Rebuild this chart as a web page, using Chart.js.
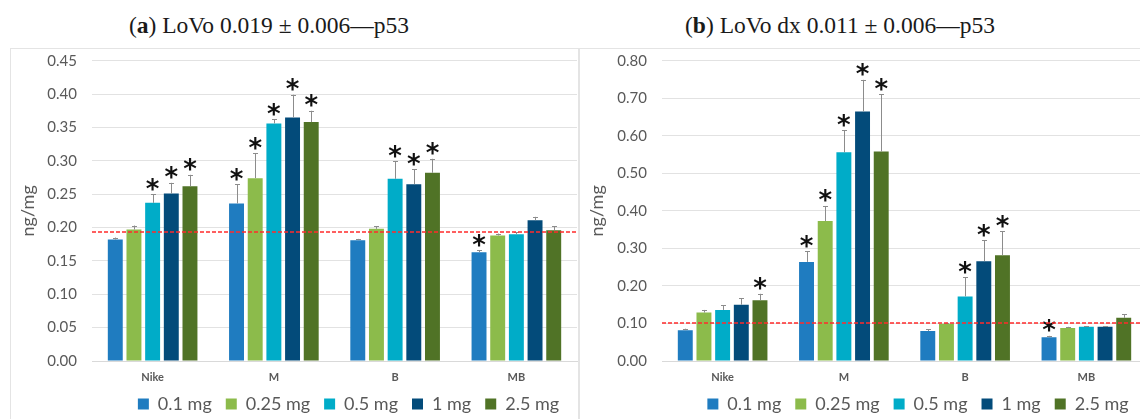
<!DOCTYPE html>
<html>
<head>
<meta charset="utf-8">
<script src="https://cdn.jsdelivr.net/npm/chart.js@4.4.1/dist/chart.umd.min.js"></script>
<style>
  html, body { margin: 0; padding: 0; background: #fff; }
  body { width: 1140px; height: 419px; overflow: hidden; position: relative; }
  .title {
    position: absolute; top: 10px; height: 30px; line-height: 30px;
    font-family: "Liberation Serif", "DejaVu Serif", serif; font-size: 23.5px;
    color: #1a1a1a; text-align: center; white-space: nowrap;
  }
  .panel { position: absolute; top: 48px; height: 375px; outline: 1px solid #e4e4e4; outline-offset: -1px; }
  #pa { left: 10px; width: 569px; }
  #pb { left: 579px; width: 570px; }
</style>
</head>
<body>
<div class="title" style="left:0;width:538px">(<b>a</b>) LoVo 0.019 ± 0.006—p53</div>
<div class="title" style="left:570px;width:540px">(<b>b</b>) LoVo dx 0.011 ± 0.006—p53</div>
<div class="panel" id="pa"><canvas id="chartA"></canvas></div>
<div class="panel" id="pb"><canvas id="chartB"></canvas></div>

<script>
// categories and doses
const categories = ["Nike", "M", "B", "MB"];
const doses = ["0.1 mg", "0.25 mg", "0.5 mg", "1 mg", "2.5 mg"];

// (a) LoVo - mean values per dose (Nike, M, B, MB)
const lovoA01 = [0.182, 0.236, 0.181, 0.163];
const lovoA025 = [0.197, 0.274, 0.198, 0.188];
const lovoA05 = [0.237, 0.356, 0.273, 0.190];
const lovoA1 = [0.251, 0.365, 0.265, 0.211];
const lovoA25 = [0.262, 0.358, 0.282, 0.196];
// (a) standard deviations
const sdA01 = [0.003, 0.029, 0.002, 0.003];
const sdA025 = [0.006, 0.037, 0.004, 0.003];
const sdA05 = [0.013, 0.006, 0.026, 0.003];
const sdA1 = [0.016, 0.034, 0.022, 0.005];
const sdA25 = [0.017, 0.017, 0.021, 0.006];
// (a) significance marks (1 = asterisk)
const sigA01 = [0, 1, 0, 1];
const sigA025 = [0, 1, 0, 0];
const sigA05 = [1, 1, 1, 0];
const sigA1 = [1, 1, 1, 0];
const sigA25 = [1, 1, 1, 0];
const refA = 0.193;
const ticksA = { max: 0.45, step: 0.05 };

// (b) LoVo dx
const lovoB01 = [0.082, 0.264, 0.080, 0.063];
const lovoB025 = [0.129, 0.373, 0.099, 0.088];
const lovoB05 = [0.136, 0.556, 0.172, 0.091];
const lovoB1 = [0.150, 0.665, 0.266, 0.091];
const lovoB25 = [0.162, 0.558, 0.282, 0.115];
const sdB01 = [0.004, 0.029, 0.004, 0.004];
const sdB025 = [0.007, 0.040, 0.003, 0.003];
const sdB05 = [0.012, 0.059, 0.051, 0.002];
const sdB1 = [0.017, 0.084, 0.056, 0.001];
const sdB25 = [0.017, 0.152, 0.064, 0.010];
const sigB01 = [0, 1, 0, 1];
const sigB025 = [0, 1, 0, 0];
const sigB05 = [0, 1, 1, 0];
const sigB1 = [0, 1, 1, 0];
const sigB25 = [1, 1, 1, 0];
const refB = 0.10;
const ticksB = { max: 0.80, step: 0.10 };

const barColors = ["#1f7cc0", "#8cbb4b", "#00acc8", "#034b7a", "#507326"];
const grey = "#595959";

// error bars (upper only) + asterisks
const errorBars = {
  id: "errorBars",
  afterDatasetsDraw(chart) {
    const ctx = chart.ctx;
    const y = chart.scales.y;
    ctx.save();
    chart.data.datasets.forEach((ds, i) => {
      const meta = chart.getDatasetMeta(i);
      meta.data.forEach((bar, j) => {
        const top = y.getPixelForValue(ds.data[j] + ds.sd[j]);
        const bx = Math.round(bar.x) + 0.5;
        ctx.strokeStyle = "#8c8c8c";
        ctx.lineWidth = 1;
        ctx.beginPath();
        ctx.moveTo(bx, bar.y);
        ctx.lineTo(bx, top);
        ctx.moveTo(bx - 2.5, Math.round(top) + 0.5);
        ctx.lineTo(bx + 2.5, Math.round(top) + 0.5);
        ctx.stroke();
        if (ds.sig[j]) {
          ctx.font = "bold 26px 'DejaVu Sans'";
          ctx.fillStyle = "#111";
          ctx.textAlign = "center";
          ctx.textBaseline = "alphabetic";
          const m = ctx.measureText("*");
          const mid = (m.actualBoundingBoxAscent - m.actualBoundingBoxDescent) / 2;
          ctx.fillText("*", bar.x, top - 10 + mid);
        }
      });
    });
    ctx.restore();
  }
};

// red dashed reference line
const refLine = {
  id: "refLine",
  afterDatasetsDraw(chart, args, opts) {
    const ctx = chart.ctx;
    const yy = Math.round(chart.scales.y.getPixelForValue(opts.value));
    ctx.save();
    ctx.strokeStyle = "#ff2b2b";
    ctx.lineWidth = 1.5;
    ctx.setLineDash([4, 2]);
    ctx.beginPath();
    ctx.moveTo(chart.chartArea.left, yy);
    ctx.lineTo(chart.chartArea.right, yy);
    ctx.stroke();
    ctx.restore();
  }
};

// legend sits right of centre in the original
const legendShift = {
  id: "legendShift",
  afterLayout(chart, args, opts) {
    if (!chart.legend) return;
    chart.legend.left += opts.dx;
    chart.legend.right += opts.dx;
  }
};

function makeChart(id, series, sds, sigs, ticks, ref, yAxisWidth) {
  const datasets = doses.map((d, i) => ({
    label: d,
    data: series[i],
    sd: sds[i],
    sig: sigs[i],
    backgroundColor: barColors[i],
    categoryPercentage: 0.77,
    barPercentage: 0.8
  }));

  return new Chart(document.getElementById(id), {
    type: "bar",
    data: { labels: categories, datasets },
    plugins: [errorBars, refLine, legendShift],
    options: {
      responsive: true,
      maintainAspectRatio: false,
      animation: false,
      layout: { padding: { top: 12.7, right: 2, left: 0, bottom: 0 } },
      scales: {
        x: {
          grid: { display: false, drawTicks: false },
          border: { display: true, color: "#d9d9d9" },
          ticks: { color: grey, font: { family: "Lato", size: 11, weight: "bold" }, padding: 10 },
          afterFit(scale) { scale.height = 20; }
        },
        y: {
          min: 0,
          max: ticks.max,
          grid: { color: "#e2e2e2", drawTicks: false },
          border: { display: false },
          ticks: {
            stepSize: ticks.step,
            color: grey,
            padding: 15,
            font: { family: "Lato", size: 15 },
            callback: v => v.toFixed(2)
          },
          title: {
            display: true,
            text: "ng/mg",
            color: grey,
            font: { family: "Lato", size: 18 },
            padding: { top: 7.5, bottom: 0 }
          },
          afterFit(scale) {
            scale.width = yAxisWidth;
            scale.paddingTop = 0;
            scale.paddingBottom = 0;
          }
        }
      },
      plugins: {
        legend: {
          position: "bottom",
          labels: {
            boxWidth: 11,
            boxHeight: 11,
            padding: 14,
            color: grey,
            font: { family: "Lato", size: 18 }
          }
        },
        tooltip: { enabled: false },
        refLine: { value: ref },
        legendShift: { dx: 55 }
      }
    }
  });
}

makeChart("chartA",
  [lovoA01, lovoA025, lovoA05, lovoA1, lovoA25],
  [sdA01, sdA025, sdA05, sdA1, sdA25],
  [sigA01, sigA025, sigA05, sigA1, sigA25],
  ticksA, refA, 82);

makeChart("chartB",
  [lovoB01, lovoB025, lovoB05, lovoB1, lovoB25],
  [sdB01, sdB025, sdB05, sdB1, sdB25],
  [sigB01, sigB025, sigB05, sigB1, sigB25],
  ticksB, refB, 83);
</script>
</body>
</html>
